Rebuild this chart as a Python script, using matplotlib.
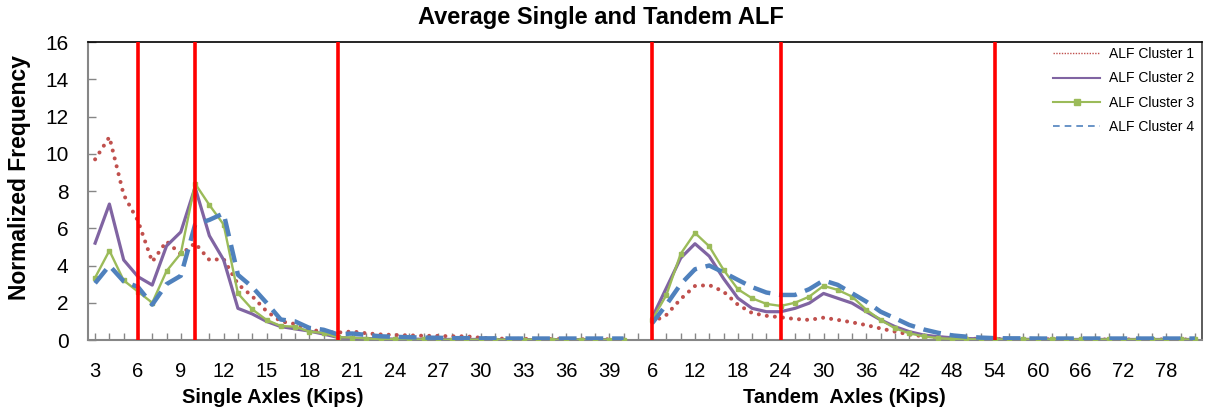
import numpy as np
import matplotlib
matplotlib.use("Agg")
import matplotlib.pyplot as plt
from matplotlib.lines import Line2D

plt.rcParams['font.family'] = ['Liberation Sans', 'DejaVu Sans']

# categories (kips)
single_kips = list(range(3, 42))      # 3 .. 41
tandem_kips = list(range(6, 84, 2))   # 6 .. 82

# normalized frequency, single axles 3..40 kips (41 has no value)
single_c1 = [9.7, 10.9, 7.8, 6.4, 4.2, 5.3, 4.6, 5.2, 4.3, 4.35, 3.0, 2.35, 1.55, 1.0, 0.86,
             0.58, 0.42, 0.4, 0.46, 0.36, 0.3, 0.27, 0.25, 0.23, 0.22, 0.2, 0.2, 0.12, 0.08,
             0.07, 0.06, 0.06, 0.05, 0.05, 0.04, 0.04, 0.04, 0.03]
single_c2 = [5.2, 7.3, 4.3, 3.4, 2.95, 5.05, 5.8, 8.2, 5.6, 4.3, 1.7, 1.4, 1.0, 0.72, 0.6,
             0.48, 0.32, 0.14, 0.1, 0.08, 0.06, 0.05, 0.05, 0.04, 0.04, 0.03, 0.03, 0.03, 0.02,
             0.02, 0.02, 0.02, 0.02, 0.02, 0.02, 0.02, 0.02, 0.02]
single_c3 = [3.35, 4.8, 3.2, 2.6, 2.0, 3.7, 4.65, 8.4, 7.25, 6.2, 2.5, 1.65, 1.08, 0.75, 0.72,
             0.45, 0.38, 0.15, 0.13, 0.08, 0.05, 0.04, 0.03, 0.03, 0.02, 0.02, 0.02, 0.02, 0.02,
             0.02, 0.02, 0.02, 0.02, 0.02, 0.02, 0.02, 0.02, 0.02]
single_c4 = [3.05, 4.0, 3.15, 2.85, 1.9, 3.0, 3.45, 6.2, 6.45, 6.8, 3.5, 2.85, 2.0, 1.1, 1.0,
             0.65, 0.55, 0.3, 0.35, 0.27, 0.2, 0.17, 0.15, 0.13, 0.12, 0.1, 0.1, 0.09, 0.09,
             0.08, 0.08, 0.08, 0.08, 0.08, 0.08, 0.08, 0.08, 0.08]

# normalized frequency, tandem axles 6..82 kips
tandem_c1 = [0.95, 1.35, 2.2, 2.9, 2.95, 2.6, 1.9, 1.45, 1.3, 1.22, 1.13, 1.08, 1.2, 1.08, 0.95,
             0.8, 0.62, 0.45, 0.3, 0.2, 0.13, 0.1, 0.08, 0.06, 0.05, 0.05, 0.04, 0.04, 0.04,
             0.03, 0.03, 0.03, 0.03, 0.03, 0.03, 0.03, 0.03, 0.03, 0.03]
tandem_c2 = [1.2, 2.8, 4.4, 5.17, 4.5, 3.3, 2.25, 1.7, 1.52, 1.52, 1.7, 1.98, 2.5, 2.24, 1.98,
             1.52, 1.08, 0.72, 0.45, 0.27, 0.18, 0.12, 0.08, 0.06, 0.05, 0.04, 0.04, 0.03, 0.03,
             0.03, 0.03, 0.03, 0.03, 0.03, 0.03, 0.03, 0.03, 0.03, 0.03]
tandem_c3 = [1.08, 2.42, 4.63, 5.75, 5.03, 3.77, 2.73, 2.24, 1.94, 1.83, 2.0, 2.33, 2.91, 2.69,
             2.33, 1.62, 1.08, 0.63, 0.36, 0.2, 0.1, 0.06, 0.04, 0.03, 0.03, 0.03, 0.03, 0.03,
             0.03, 0.03, 0.03, 0.03, 0.03, 0.03, 0.03, 0.03, 0.03, 0.03, 0.03]
tandem_c4 = [0.9, 1.9, 3.0, 3.8, 4.0, 3.63, 3.23, 2.84, 2.55, 2.42, 2.42, 2.73, 3.2, 2.96, 2.51,
             2.06, 1.52, 1.17, 0.81, 0.57, 0.39, 0.25, 0.18, 0.13, 0.1, 0.09, 0.09, 0.08, 0.08,
             0.08, 0.08, 0.08, 0.08, 0.08, 0.08, 0.08, 0.08, 0.08, 0.08]

# red limit lines (kips)
single_limits = [6, 10, 20]
tandem_limits = [6, 24, 54]

labels = ['ALF Cluster 1', 'ALF Cluster 2', 'ALF Cluster 3', 'ALF Cluster 4']

n_single = len(single_kips)
n_all = n_single + len(tandem_kips)
idx = np.arange(n_all)


def full(s, t):
    arr = np.full(n_all, np.nan)
    arr[:len(s)] = s
    arr[n_single:n_single + len(t)] = t
    return arr


c1 = full(single_c1, tandem_c1)
c2 = full(single_c2, tandem_c2)
c3 = full(single_c3, tandem_c3)
c4 = full(single_c4, tandem_c4)

red = '#C0504D'
purple = '#8064A2'
green = '#9BBB59'
blue = '#4F81BD'

fig = plt.figure(figsize=(12.1, 4.11), dpi=100)
ax = fig.add_axes([0.0727, 0.1727, 0.9207, 0.7251])

ax.plot(idx, c1, color=red, lw=2.9, linestyle=(0, (0.01, 2.0)),
        dash_capstyle='round', zorder=2)
ax.plot(idx, c2, color=purple, lw=2.3, zorder=3)
ax.plot(idx, c3, color=green, lw=1.7, marker='s', ms=3, zorder=4)
ax.plot(idx, c4, color=blue, lw=3.2, linestyle=(0, (4, 2)), zorder=5)

for k in single_limits:
    ax.axvline(single_kips.index(k), color='#FF0000', lw=2.6, zorder=6)
for k in tandem_limits:
    ax.axvline(n_single + tandem_kips.index(k), color='#FF0000', lw=2.6, zorder=6)

ax.set_xlim(-0.5, n_all - 0.5)
ax.set_ylim(0, 16)
ax.set_yticks(range(0, 17, 2))

cat_labels = [str(k) for k in single_kips + tandem_kips]
ax.set_xticks(idx)
ax.set_xticklabels([lab if i % 3 == 0 else '' for i, lab in enumerate(cat_labels)])

ax.tick_params(axis='x', direction='in', length=5, color='#868686', width=1,
               labelsize=14.5, pad=16)
ax.tick_params(axis='y', direction='in', length=6, color='#868686', width=1,
               labelsize=15, pad=14)

for side in ['left', 'bottom']:
    ax.spines[side].set_color('#868686')
    ax.spines[side].set_linewidth(1.5)
ax.spines['top'].set_color('black')
ax.spines['right'].set_color('#404040')
ax.spines['top'].set_linewidth(1.2)
ax.spines['right'].set_linewidth(1.2)

ax.set_ylabel('Normalized Frequency', fontsize=16.5, fontweight='bold')
ax.yaxis.set_label_coords(-0.051, 0.545)

fig.text(0.497, 0.957, 'Average Single and Tandem ALF', ha='center', va='center',
         fontsize=17, fontweight='bold')
fig.text(0.225, 0.034, 'Single Axles (Kips)', ha='center', va='center',
         fontsize=14.5, fontweight='bold')
fig.text(0.698, 0.034, 'Tandem  Axles (Kips)', ha='center', va='center',
         fontsize=14.5, fontweight='bold')

handles = [
    Line2D([], [], color=red, lw=1, linestyle=(0, (1, 1))),
    Line2D([], [], color=purple, lw=1.5),
    Line2D([], [], color=green, lw=1.5, marker='s', ms=4),
    Line2D([], [], color=blue, lw=1.2, linestyle=(0, (4, 3))),
]
ax.legend(handles, labels, loc='upper right', bbox_to_anchor=(1.004, 1.025),
          frameon=False, fontsize=10, handlelength=3.4, labelspacing=0.75,
          handletextpad=0.6)

fig.savefig('out.png', dpi=100)
